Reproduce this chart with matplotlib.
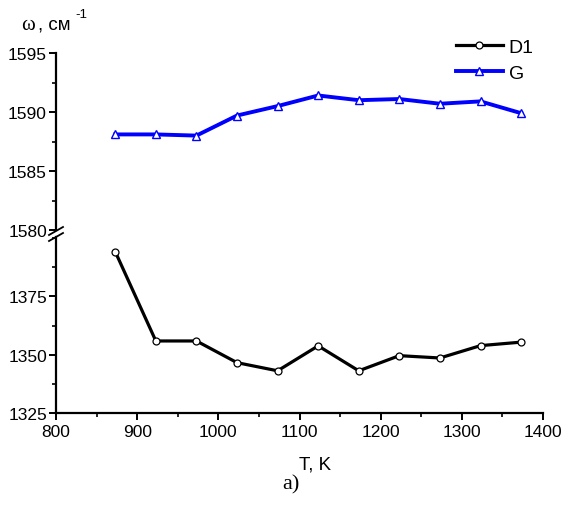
import matplotlib
matplotlib.use('Agg')
import matplotlib.pyplot as plt
from matplotlib.lines import Line2D
from matplotlib.ticker import MultipleLocator

# temperature, K
T = [873, 923, 973, 1023, 1073, 1123, 1173, 1223, 1273, 1323, 1373]
# band positions, cm^-1
D1 = [1394.2, 1355.9, 1355.9, 1346.6, 1343.1, 1353.8, 1343.1, 1349.6, 1348.6, 1353.9, 1355.4]
G = [1588.1, 1588.1, 1588.0, 1589.7, 1590.5, 1591.4, 1591.0, 1591.1, 1590.7, 1590.9, 1589.9]

plt.rcParams['font.family'] = ['Liberation Sans', 'DejaVu Sans']

W, H = 565, 506
fig = plt.figure(figsize=(W / 100, H / 100), dpi=100)


def fx(px):
    return px / W


def fy(py):
    return 1 - py / H


left, right = fx(56), fx(543)
ax_top = fig.add_axes([left, fy(231), right - left, fy(54) - fy(231)])
ax_bot = fig.add_axes([left, fy(414), right - left, fy(238) - fy(414)])

for ax in (ax_top, ax_bot):
    ax.set_xlim(800, 1400)
    for s in ('top', 'right'):
        ax.spines[s].set_visible(False)
    ax.spines['left'].set_linewidth(1.6)
    ax.spines['bottom'].set_linewidth(1.6)
    ax.xaxis.set_major_locator(MultipleLocator(100))
    ax.xaxis.set_minor_locator(MultipleLocator(50))
    ax.tick_params(which='major', direction='out', length=5, width=1.4, labelsize=12.5, pad=1.5)
    ax.tick_params(which='minor', direction='out', length=3, width=1.2)

ax_top.spines['bottom'].set_visible(False)
ax_top.tick_params(axis='x', which='both', bottom=False, labelbottom=False)
ax_top.set_ylim(1580, 1595)
ax_top.yaxis.set_major_locator(MultipleLocator(5))
ax_top.yaxis.set_minor_locator(MultipleLocator(2.5))

ax_bot.set_ylim(1325, 1400.5)
ax_bot.set_yticks([1325, 1350, 1375])
ax_bot.yaxis.set_minor_locator(MultipleLocator(12.5))
ax_bot.tick_params(axis='x', which='major', pad=3)

l1, = ax_bot.plot(T, D1, color='black', lw=2.3, marker='o', ms=5,
                  mfc='white', mec='black', mew=0.9, label='D1', clip_on=False)
l2, = ax_top.plot(T, G, color='#0000ff', lw=2.8, marker='^', ms=6,
                  mfc='white', mec='#0000ff', mew=1.0, label='G', clip_on=False)

fig.legend([l1, l2], ['D1', 'G'], loc='upper left',
           bbox_to_anchor=(fx(456), fy(39)), frameon=False, fontsize=14,
           handlelength=2.4, handletextpad=0.3, labelspacing=0.45,
           borderaxespad=0, borderpad=0)

# axis break marks
for dy in (0, 6):
    fig.add_artist(Line2D([fx(49), fx(63)], [fy(236 + dy), fy(228 + dy)],
                          color='black', lw=1.3, transform=fig.transFigure))

fig.text(fx(21), fy(25), 'ω', fontsize=15, family=['Liberation Serif', 'DejaVu Serif'],
         va='center', ha='left')
fig.text(fx(38), fy(25), ', см', fontsize=13.5, va='center', ha='left')
fig.text(fx(75), fy(15), '-1', fontsize=9.5, va='center', ha='left')

fig.text(fx(315), fy(465), 'T, K', fontsize=13.5, ha='center', va='center')
fig.text(fx(291), fy(485), 'a)', fontsize=16, ha='center', va='center',
         family=['Liberation Serif', 'DejaVu Serif'])

fig.savefig('out.png', dpi=100)
